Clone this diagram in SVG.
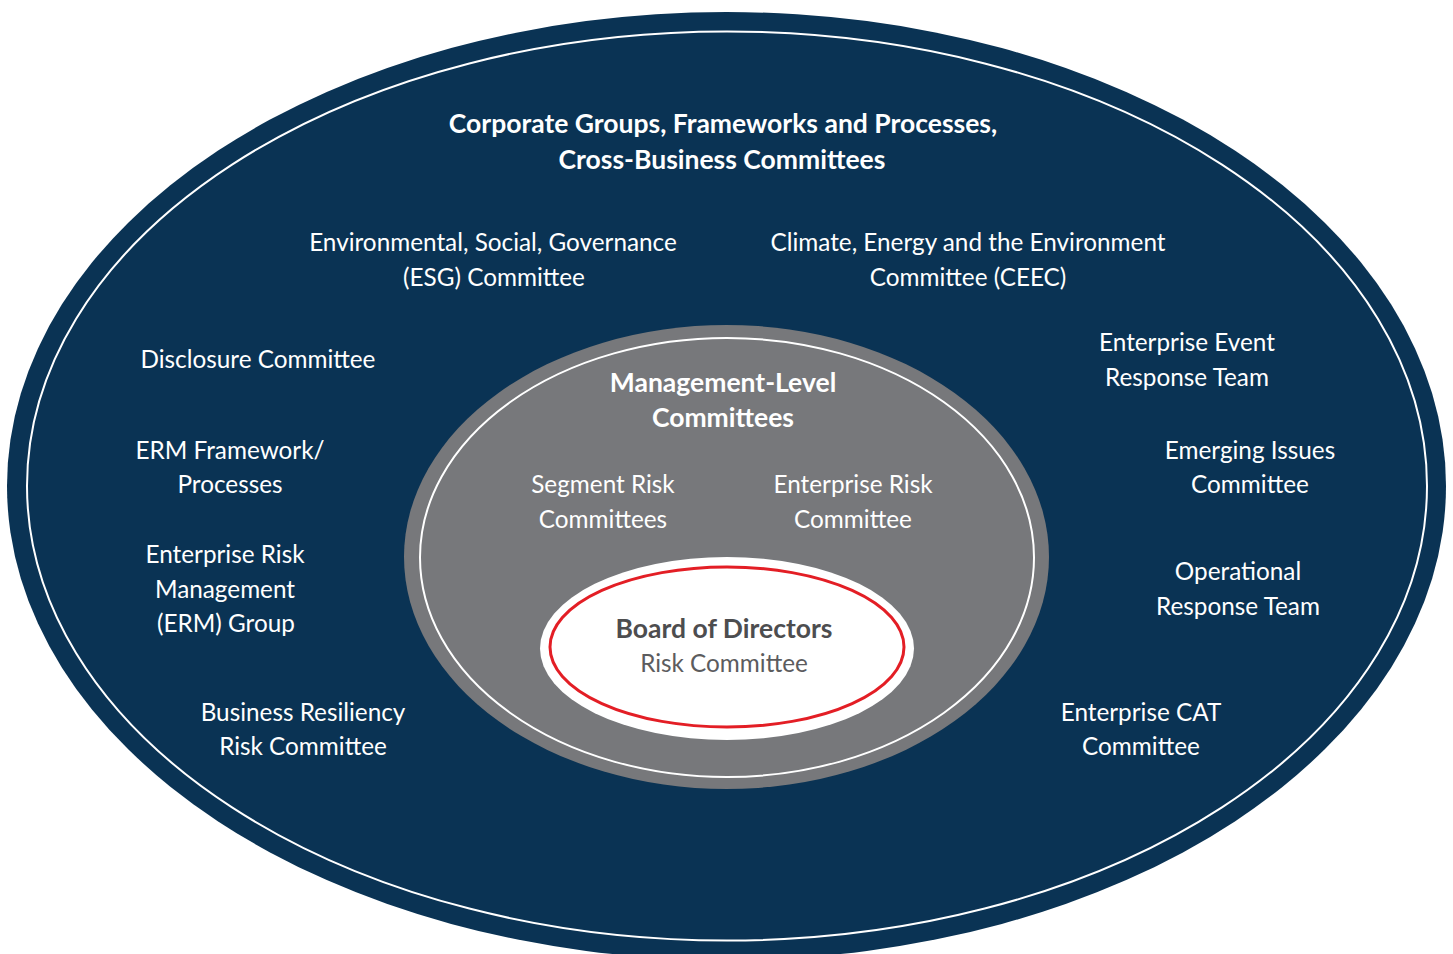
<svg xmlns="http://www.w3.org/2000/svg" width="1453" height="954" viewBox="0 0 1453 954">
<style>
.t{font-family:Lato,"Open Sans","Liberation Sans",sans-serif;font-size:24.3px;fill:#ffffff;text-anchor:middle}
.b{font-weight:700;font-size:26.5px}
.d{fill:#4d4d4f}
.r{fill:#5c5c5e}
</style>
<rect width="1453" height="954" fill="#ffffff"/>
<g id="outer">
<ellipse cx="726.5" cy="486" rx="719.5" ry="474" fill="#0a3354"/>
<ellipse cx="727" cy="486" rx="700" ry="454.5" fill="none" stroke="#ffffff" stroke-width="2"/>
<text class="t b" x="723" y="133">Corporate Groups, Frameworks and Processes,</text>
<text class="t b" x="722" y="169">Cross-Business Committees</text>
</g>
<g id="esg"><text class="t" x="493" y="251">Environmental, Social, Governance</text><text class="t" x="494" y="286">(ESG) Committee</text></g>
<g id="ceec"><text class="t" x="968" y="251">Climate, Energy and the Environment</text><text class="t" x="968" y="286">Committee (CEEC)</text></g>
<g id="disclosure"><text class="t" x="258" y="368">Disclosure Committee</text></g>
<g id="event"><text class="t" x="1187" y="351">Enterprise Event</text><text class="t" x="1187" y="386">Response Team</text></g>
<g id="ermfw"><text class="t" x="230" y="459">ERM Framework/</text><text class="t" x="230" y="493">Processes</text></g>
<g id="emerging"><text class="t" x="1250" y="459">Emerging Issues</text><text class="t" x="1250" y="493">Committee</text></g>
<g id="ermgroup"><text class="t" x="225" y="563">Enterprise Risk</text><text class="t" x="225" y="598">Management</text><text class="t" x="226" y="632">(ERM) Group</text></g>
<g id="operational"><text class="t" x="1238" y="580">Operational</text><text class="t" x="1238" y="615">Response Team</text></g>
<g id="resiliency"><text class="t" x="303" y="721">Business Resiliency</text><text class="t" x="303" y="755">Risk Committee</text></g>
<g id="cat"><text class="t" x="1141" y="721">Enterprise CAT</text><text class="t" x="1141" y="755">Committee</text></g>
<g id="management">
<ellipse cx="726.5" cy="557" rx="322.5" ry="232" fill="#77787b"/>
<ellipse cx="727" cy="557.5" rx="307" ry="219.5" fill="none" stroke="#ffffff" stroke-width="2"/>
<text class="t b" x="723" y="392">Management-Level</text>
<text class="t b" x="723" y="427">Committees</text>
</g>
<g id="segment"><text class="t" x="603" y="493">Segment Risk</text><text class="t" x="603" y="528">Committees</text></g>
<g id="erc"><text class="t" x="853" y="493">Enterprise Risk</text><text class="t" x="853" y="528">Committee</text></g>
<g id="board">
<ellipse cx="727" cy="648.5" rx="187" ry="91.5" fill="#ffffff"/>
<ellipse cx="727" cy="647" rx="177" ry="80" fill="none" stroke="#e31e25" stroke-width="3"/>
<text class="t b d" x="724" y="638">Board of Directors</text>
<text class="t r" x="724" y="672">Risk Committee</text>
</g>
<g id="connectors"/>
</svg>
